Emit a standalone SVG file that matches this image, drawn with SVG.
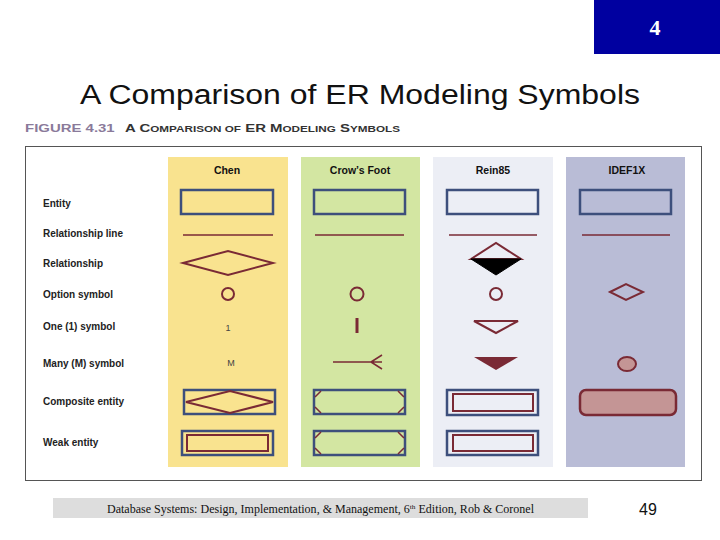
<svg xmlns="http://www.w3.org/2000/svg" width="720" height="540" viewBox="0 0 720 540">
<style>
.lbl{font-family:"Liberation Sans",Arial,sans-serif;font-size:10px;font-weight:bold;fill:#222}
.hd{font-family:"Liberation Sans",Arial,sans-serif;font-size:10.5px;font-weight:bold;fill:#111;text-anchor:middle}
.ent{fill:none;stroke:#3d4f7c;stroke-width:2.5}
.mar{fill:none;stroke:#7a2a35;stroke-width:2}
.ln{stroke:#7a2a35;stroke-width:1.5}
</style>
<rect width="720" height="540" fill="#fff"/>
<rect x="594" y="0" width="126" height="54" fill="#0000a0"/>
<text x="655" y="35" font-family="Liberation Serif,serif" font-size="22" font-weight="bold" fill="#fff" text-anchor="middle">4</text>
<text x="80" y="104" font-family="Liberation Sans,Arial,sans-serif" font-size="27" fill="#111" textLength="560" lengthAdjust="spacingAndGlyphs">A Comparison of ER Modeling Symbols</text>
<text x="25" y="132" font-family="Liberation Sans,Arial,sans-serif" font-size="11.5" font-weight="bold" textLength="375" lengthAdjust="spacingAndGlyphs"><tspan fill="#8a7a9a">FIGURE 4.31</tspan><tspan fill="#333" dx="8">A C<tspan font-size="9">OMPARISON OF</tspan> ER M<tspan font-size="9">ODELING</tspan> S<tspan font-size="9">YMBOLS</tspan></tspan></text>
<rect x="25.5" y="146.5" width="676" height="334" fill="#fff" stroke="#555" stroke-width="1"/>
<g id="columns">
<rect x="168" y="157" width="120" height="310" fill="#f9e38f"/>
<rect x="301" y="157" width="119" height="310" fill="#d3e6a2"/>
<rect x="433" y="157" width="120" height="310" fill="#eceef5"/>
<rect x="566" y="157" width="119" height="310" fill="#b9bcd6"/>
<text class="hd" x="227" y="174">Chen</text>
<text class="hd" x="360" y="174">Crow’s Foot</text>
<text class="hd" x="493" y="174">Rein85</text>
<text class="hd" x="627" y="174">IDEF1X</text>
</g>
<g id="row-labels">
<text class="lbl" x="43" y="207">Entity</text>
<text class="lbl" x="43" y="237">Relationship line</text>
<text class="lbl" x="43" y="267">Relationship</text>
<text class="lbl" x="43" y="298">Option symbol</text>
<text class="lbl" x="43" y="330">One (1) symbol</text>
<text class="lbl" x="43" y="367">Many (M) symbol</text>
<text class="lbl" x="43" y="405">Composite entity</text>
<text class="lbl" x="43" y="446">Weak entity</text>
</g>
<g id="chen">
<rect class="ent" x="181" y="190" width="92" height="24"/>
<line class="ln" x1="183" y1="235" x2="273" y2="235"/>
<polygon class="mar" points="183,263 228,251 273,263 228,275"/>
<circle class="mar" cx="228" cy="294" r="6"/>
<text x="228" y="331" font-family="Liberation Sans,sans-serif" font-size="9" fill="#444" text-anchor="middle">1</text>
<text x="231" y="366" font-family="Liberation Sans,sans-serif" font-size="9" fill="#444" text-anchor="middle">M</text>
<rect class="ent" x="184" y="390" width="91" height="24"/>
<polygon class="mar" points="186,402 230,391 273,402 230,413"/>
<rect class="ent" x="182" y="431" width="91" height="24"/>
<rect class="mar" x="187" y="435" width="81" height="16" stroke-width="2.5"/>
</g>
<g id="crowsfoot">
<rect class="ent" x="314" y="190" width="91" height="24"/>
<line class="ln" x1="315" y1="235" x2="404" y2="235"/>
<circle class="mar" cx="357" cy="294" r="6.5"/>
<line x1="357" y1="318" x2="357" y2="333" stroke="#7a2a35" stroke-width="3"/>
<path class="ln" fill="none" d="M333,362 H382 M371,362 L382,355 M371,362 L382,369"/>
<rect class="ent" x="314" y="390" width="91" height="24"/>
<path class="ln" fill="none" d="M315,397 L321,391 M315,407 L321,413 M404,397 L398,391 M404,407 L398,413"/>
<rect class="ent" x="314" y="431" width="91" height="24"/>
<path class="ln" fill="none" d="M315,438 L321,432 M315,448 L321,454 M404,438 L398,432 M404,448 L398,454"/>
</g>
<g id="rein85">
<rect class="ent" x="447" y="190" width="91" height="24"/>
<line class="ln" x1="449" y1="235" x2="537" y2="235"/>
<polygon points="471,259 496,243 521,259" fill="none" stroke="#7a2a35" stroke-width="2"/>
<polygon points="471,259 521,259 496,275" fill="#000" stroke="#000"/>
<circle class="mar" cx="496" cy="294" r="6"/>
<polygon class="mar" points="474,321 518,321 496,333"/>
<polygon points="474,357 518,357 496,370" fill="#7a2a35"/>
<rect class="ent" x="447" y="390" width="91" height="25"/>
<rect class="mar" x="453" y="394" width="80" height="17" stroke-width="2.5"/>
<rect class="ent" x="447" y="431" width="91" height="24"/>
<rect class="mar" x="453" y="435" width="80" height="16" stroke-width="2.5"/>
</g>
<g id="idef1x">
<rect class="ent" x="580" y="190" width="91" height="24"/>
<line class="ln" x1="582" y1="235" x2="670" y2="235"/>
<polygon class="mar" points="610,292 626,284 643,292 626,300"/>
<ellipse cx="627" cy="364" rx="9" ry="7" fill="#c49595" stroke="#7a2a35" stroke-width="2"/>
<rect x="580" y="390" width="96" height="25" rx="6" fill="#c49595" stroke="#7a2a35" stroke-width="2.5"/>
</g>
<g id="footer">
<rect x="53" y="498" width="535" height="20" fill="#ddd"/>
<text x="107" y="513" font-family="Liberation Serif,serif" font-size="11.5" fill="#111" textLength="427" lengthAdjust="spacingAndGlyphs">Database Systems: Design, Implementation, &amp; Management, 6<tspan font-size="7" dy="-4">th</tspan><tspan dy="4"> Edition, Rob &amp; Coronel</tspan></text>
<text x="648" y="515" font-family="Liberation Sans,Arial,sans-serif" font-size="16" fill="#111" text-anchor="middle">49</text>
</g>
</svg>
